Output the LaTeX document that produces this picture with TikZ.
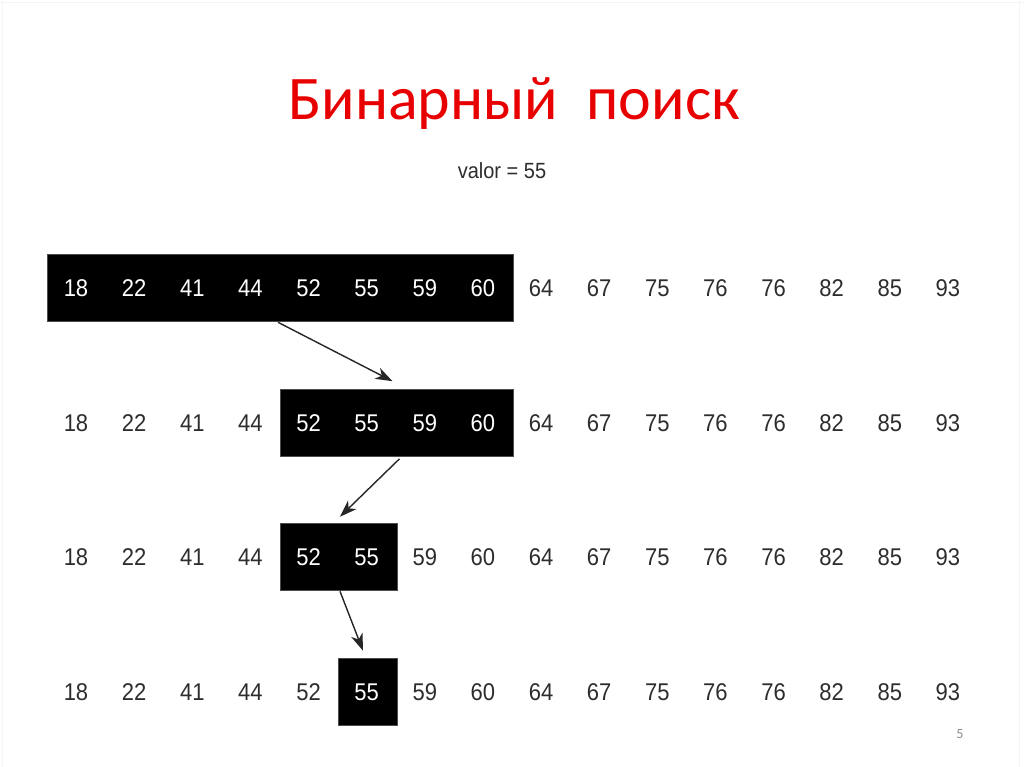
\documentclass[tikz,border=0pt]{standalone}
\usepackage{fontspec}
\setmainfont{Liberation Sans}
\newfontfamily\titlefont{Carlito}
\usetikzlibrary{arrows.meta}
\definecolor{titlered}{RGB}{232,0,0}
\definecolor{numgray}{RGB}{45,45,45}
\definecolor{pagegray}{RGB}{140,140,140}
\newcommand{\tallnum}[1]{\scalebox{1}[1.1]{#1}}
\begin{document}
\begin{tikzpicture}[x=1pt,y=-1pt,
  num/.style={font=\fontsize{22}{24}\selectfont, text=numgray, inner sep=0pt, anchor=center},
  innum/.style={num, text=white},
  selbox/.style={fill=black, draw=black!70, line width=0.6pt, inner sep=0pt, minimum height=67pt},
  conn/.style={-{Stealth[length=17pt,width=12pt,inset=5pt]}, line width=1.4pt, black!85}]
\useasboundingbox[fill=white] (0,0) rectangle (1024,767);
\draw[black!4, line width=1pt] (2.5,0) -- (2.5,767) (0,2.5) -- (1024,2.5) (1019,0) -- (1019,767);
\node[font=\titlefont\fontsize{62}{72}\selectfont, text=titlered] (title) at (514,104) {Бинарный\ \ поиск};
\node[font=\fontsize{20}{22}\selectfont, text=numgray] (valor) at (502,171) {\tallnum{valor = 55}};
% selection boxes
\node[selbox, minimum width=466pt] (b1) at (280,287.5) {};
\node[selbox, minimum width=233pt] (b2) at (396.5,423) {};
\node[selbox, minimum width=117pt] (b3) at (338.5,556.5) {};
\node[selbox, minimum width=59pt] (b4) at (367.5,691.5) {};
% numbers
\def\vals{18,22,41,44,52,55,59,60,64,67,75,76,76,82,85,93}
\foreach \r/\y/\lo/\hi in {1/288/0/7, 2/423/4/7, 3/557/4/5, 4/692/5/5}{
  \foreach \v [count=\c from 0] in \vals {
    \pgfmathtruncatemacro{\inside}{(\c>=\lo)&&(\c<=\hi)}
    \ifnum\inside=1
      \node[innum] (n-\r-\c) at ({76+58.13*\c},\y) {\tallnum{\v}};
    \else
      \node[num] (n-\r-\c) at ({76+58.13*\c},\y) {\tallnum{\v}};
    \fi
  }
}
% connectors
\coordinate (a1s) at ([xshift=-2pt,yshift=-1pt]b1.south);
\coordinate (a1e) at ([xshift=-4pt,yshift=8pt]b2.north);
\coordinate (a2s) at ([xshift=3pt,yshift=-2pt]b2.south);
\coordinate (a2e) at ([xshift=1.5pt,yshift=6pt]b3.north);
\coordinate (a3s) at ([xshift=1.5pt,yshift=-1pt]b3.south);
\coordinate (a3e) at ([xshift=-4.5pt,yshift=7pt]b4.north);
\draw[conn] (a1s) -- (a1e);
\draw[conn] (a2s) -- (a2e);
\draw[conn] (a3s) -- (a3e);
\node[font=\titlefont\fontsize{14}{16}\selectfont, text=pagegray] (page) at (960,734) {5};
\end{tikzpicture}
\end{document}
